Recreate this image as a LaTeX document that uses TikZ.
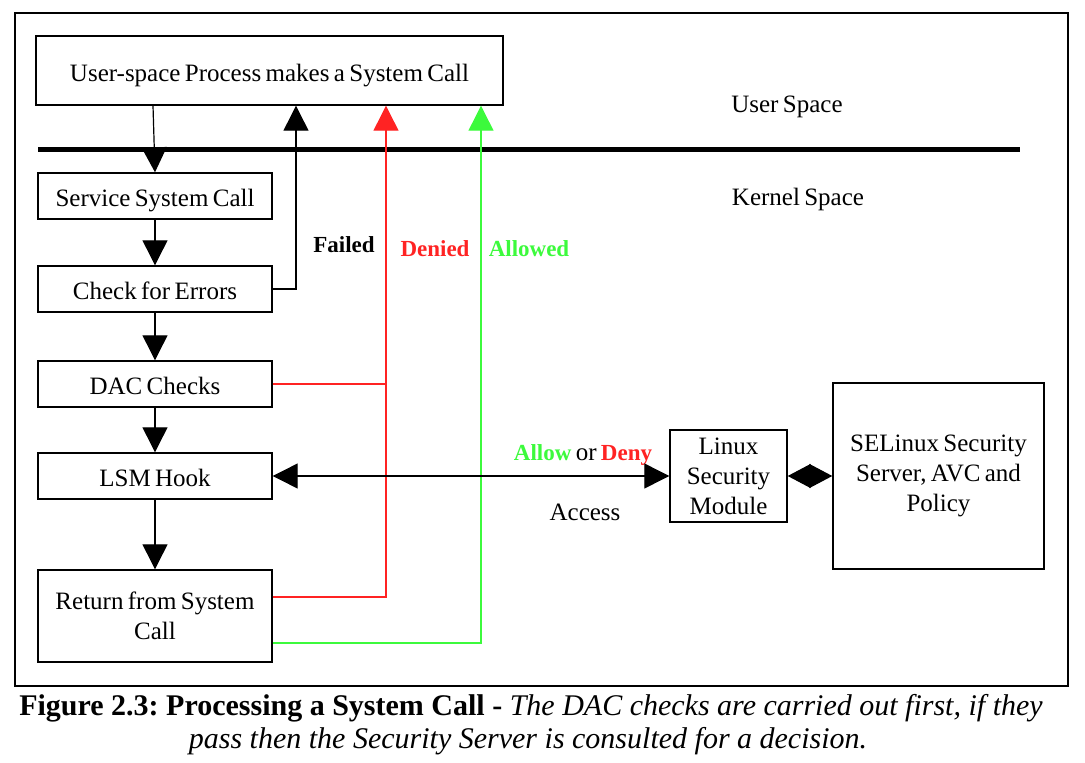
\documentclass[tikz,border=0pt]{standalone}
\usepackage{fontspec}
\setmainfont{Liberation Serif}[WordSpace=0.7]
\newfontfamily\capfont{Liberation Serif}
\usetikzlibrary{arrows.meta}
\definecolor{rred}{RGB}{255,35,35}
\definecolor{ggreen}{RGB}{60,250,60}
\frenchspacing
\begin{document}
\begin{tikzpicture}[x=1pt,y=-1pt,
  box/.style={draw,line width=1.4pt,inner sep=0pt,align=center,font=\fontsize{25}{30}\selectfont},
  sbox/.style={box,text height=21pt,text depth=0pt},
  lbl/.style={inner sep=0pt,font=\fontsize{25}{30}\selectfont,text height=17pt,text depth=0pt},
  blbl/.style={inner sep=0pt,font=\fontsize{23}{28}\selectfont\bfseries,text height=16pt,text depth=0pt},
  arr/.style={-{Triangle[length=25pt,width=25pt]}},
  conn/.style={line width=1.2pt},
  redline/.style={conn,draw=rred,color=rred},
  greenline/.style={conn,draw=ggreen,color=ggreen}]
\useasboundingbox (0,0) rectangle (1085,763);
\draw[line width=1.3pt] (15,13) rectangle (1068,686);
% thick separator
\coordinate (kl) at (38,149);
\coordinate (kr) at (1020,149);
\draw[line width=5pt] (kl) -- (kr);
% boxes
\node[sbox,minimum width=467,minimum height=69] (usr) at (269.5,70.5) {User-space Process makes a System Call};
\node[sbox,minimum width=234,minimum height=46] (svc) at (155,196) {Service System Call};
\node[sbox,minimum width=234,minimum height=46] (chk) at (155,289) {Check for Errors};
\node[sbox,minimum width=234,minimum height=46] (dac) at (155,384) {DAC Checks};
\node[sbox,minimum width=234,minimum height=46] (lsm) at (155,476) {LSM Hook};
\node[box,minimum width=234,minimum height=92] (ret) at (155,616) {Return from System\\Call};
\node[box,minimum width=117,minimum height=92] (mod) at (728.5,476) {Linux\\Security\\Module};
\node[box,minimum width=211,minimum height=186] (sel) at (938.5,476) {SELinux Security\\Server, AVC and\\Policy};
% labels
\node[lbl] (us) at (787,104) {User Space};
\node[lbl] (ks) at (798,197) {Kernel Space};
\node[blbl] (failed) at (344,244) {Failed};
\node[blbl,text=rred] (denied) at (435,248) {Denied};
\node[blbl,text=ggreen] (allowed) at (529,248) {Allowed};
\node[lbl] (aod) at (583,452) {{\fontsize{23}{28}\selectfont\bfseries\color{ggreen}Allow} or {\fontsize{23}{28}\selectfont\bfseries\color{rred}Deny}};
\node[lbl] (acc) at (585,512) {Access};
% coordinates at the top box
\coordinate (ftop) at ([xshift=26.5pt]usr.south);
\coordinate (rtop) at ([xshift=116.5pt]usr.south);
\coordinate (gtop) at ([xshift=211.5pt]usr.south);
% connectors
\draw[conn,arr] ([xshift=-116.5pt]usr.south) -- (svc.north);
\draw[conn,arr] (svc) -- (chk);
\draw[conn,arr] (chk) -- (dac);
\draw[conn,arr] (dac) -- (lsm);
\draw[conn,arr] (lsm) -- (ret);
\draw[conn,arr] (chk.east) -| (ftop);
\draw[redline,arr] ([yshift=19pt]ret.east) -| (rtop);
\draw[redline] (dac.east) -- (dac.east -| rtop);
\draw[greenline,arr] ([yshift=-27pt]ret.east) -| (gtop);
\draw[conn,{Triangle[length=25pt,width=25pt]}-{Triangle[length=25pt,width=25pt]}] (lsm.east) -- (mod.west);
\draw[conn,{Triangle[length=23pt,width=24pt]}-{Triangle[length=23pt,width=24pt]}] (mod.east) -- (sel.west);
% caption
\node[inner sep=0pt] (cap1) at (531,708) {\capfont\fontsize{30}{35}\selectfont\textbf{Figure 2.3: Processing a System Call -} \textit{The DAC checks are carried out first, if they}};
\node[inner sep=0pt] (cap2) at (528,741) {\capfont\fontsize{30}{35}\selectfont\textit{pass then the Security Server is consulted for a decision.}};
\end{tikzpicture}
\end{document}
